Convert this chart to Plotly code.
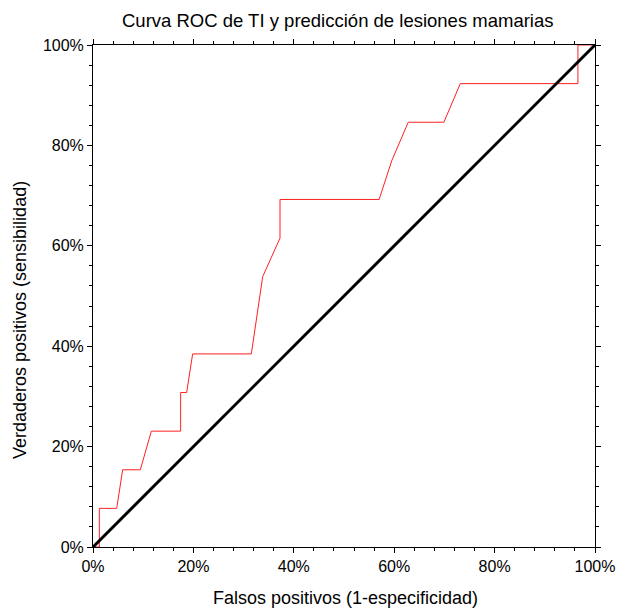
import plotly.graph_objects as go

# ROC curve points (false positive rate, true positive rate)
fpr = [0.0, 0.0126, 0.0126, 0.0472, 0.0591, 0.0943, 0.1162, 0.1746, 0.1746, 0.1866,
       0.1985, 0.3154, 0.3380, 0.3725, 0.3725, 0.5700, 0.5950, 0.6280, 0.6990, 0.7317,
       0.9660, 0.9660, 1.0]
tpr = [0.0, 0.0, 1/13, 1/13, 2/13, 2/13, 3/13, 3/13, 4/13, 4/13,
       5/13, 5/13, 7/13, 8/13, 9/13, 9/13, 10/13, 11/13, 11/13, 12/13,
       12/13, 1.0, 1.0]
diag_x = [0.0, 1.0]
diag_y = [0.0, 1.0]
tick_vals = [0, 0.2, 0.4, 0.6, 0.8, 1.0]
tick_text = ["0%", "20%", "40%", "60%", "80%", "100%"]

title_text = "Curva ROC de TI y predicción de lesiones mamarias"
x_title = "Falsos positivos (1-especificidad)"
y_title = "Verdaderos positivos (sensibilidad)"

FONT = "Liberation Sans, Arial, Helvetica, sans-serif"

W, H = 617, 608
L, T, PW, PH = 93, 45, 502, 502
R, B = W - L - PW, H - T - PH

def px_x(page_x):
    return (page_x - L) / PW

def px_y(page_y):
    return (T + PH - page_y) / PH

fig = go.Figure()
fig.add_trace(go.Scatter(x=fpr, y=tpr, mode="lines",
                         line=dict(color="#ff2020", width=1), showlegend=False,
                         hoverinfo="skip"))
fig.add_trace(go.Scatter(x=diag_x, y=diag_y, mode="lines",
                         line=dict(color="black", width=3), showlegend=False,
                         hoverinfo="skip"))

axis_common = dict(
    range=[0, 1], tickvals=tick_vals, ticktext=tick_text, automargin=False,
    showgrid=False, zeroline=False, showline=True, linecolor="black", linewidth=1,
    mirror="allticks", ticks="outside", ticklen=5, tickwidth=1, tickcolor="black",
    tickfont=dict(family=FONT, size=16, color="black"),
    minor=dict(dtick=0.04, ticks="outside", ticklen=3, tickwidth=1, tickcolor="black"),
    fixedrange=True,
)

fig.update_layout(
    width=W, height=H,
    margin=dict(l=L, r=R, t=T, b=B, pad=0),
    paper_bgcolor="white", plot_bgcolor="white",
    font=dict(family=FONT, color="black"),
    xaxis=dict(**axis_common),
    yaxis=dict(**axis_common),
    annotations=[
        dict(text=title_text, xref="paper", yref="paper", x=px_x(338), y=px_y(20),
             xanchor="center", yanchor="middle", showarrow=False,
             font=dict(family=FONT, size=18.5, color="black")),
        dict(text=x_title, xref="paper", yref="paper", x=px_x(345), y=px_y(598),
             xanchor="center", yanchor="middle", showarrow=False,
             font=dict(family=FONT, size=18, color="black")),
        dict(text=y_title, xref="paper", yref="paper", x=px_x(20), y=px_y(320),
             xanchor="center", yanchor="middle", showarrow=False, textangle=-90,
             font=dict(family=FONT, size=18, color="black")),
    ],
)

fig.write_html("out.html", config={"displayModeBar": False},
               post_script="document.body.style.margin='0';document.body.style.overflow='hidden';")
